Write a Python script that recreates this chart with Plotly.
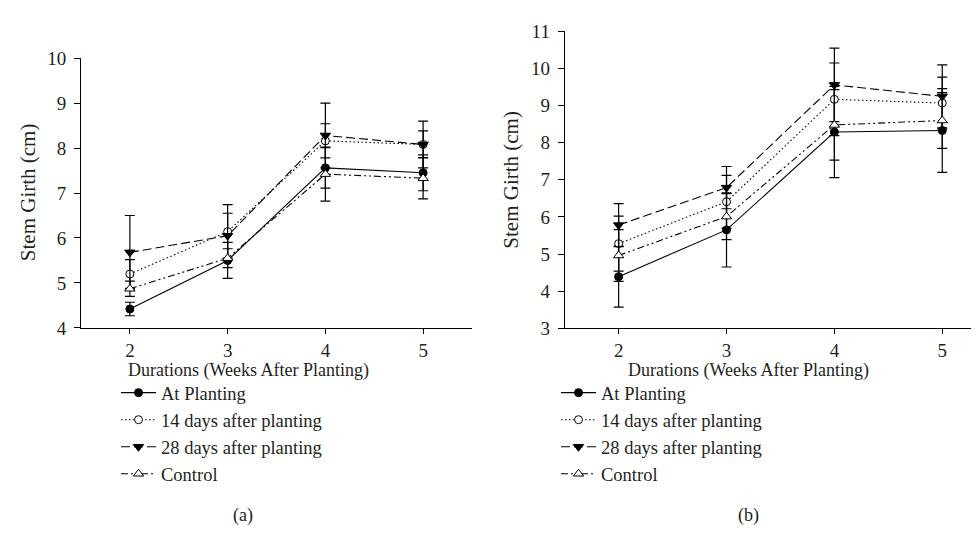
import plotly.graph_objects as go

# ---------------- data ----------------
weeks = [2, 3, 4, 5]
series_names = ["At Planting", "14 days after planting", "28 days after planting", "Control"]

# panel (a)
a_at = [4.42, 5.50, 7.56, 7.45]
a_at_err = [0.15, 0.40, 0.45, 0.40]
a_14 = [5.20, 6.14, 8.16, 8.08]
a_14_err = [0.32, 0.60, 0.38, 0.30]
a_28 = [5.68, 6.05, 8.28, 8.08]
a_28_err = [0.82, 0.50, 0.72, 0.52]
a_ctrl = [4.87, 5.55, 7.42, 7.33]
a_ctrl_err = [0.17, 0.21, 0.60, 0.46]

# panel (b)
b_at = [4.39, 5.65, 8.29, 8.33]
b_at_err = [0.82, 1.00, 1.23, 1.13]
b_14 = [5.28, 6.41, 9.17, 9.07]
b_14_err = [0.74, 0.71, 0.98, 0.70]
b_28 = [5.78, 6.79, 9.56, 9.25]
b_28_err = [0.58, 0.57, 0.99, 0.85]
b_ctrl = [4.96, 6.01, 8.48, 8.60]
b_ctrl_err = [0.70, 0.62, 0.95, 0.75]

a_ticks = [4, 5, 6, 7, 8, 9, 10]
b_ticks = [3, 4, 5, 6, 7, 8, 9, 10, 11]

# ---------------- styling ----------------
W, H = 979, 559
FONT = "Liberation Serif"
TXT = "#231f20"
styles = [
    dict(dash="solid", symbol="circle", fill="black", size=8),
    dict(dash="1.5px,2.5px", symbol="circle", fill="white", size=8),
    dict(dash="9px,4px", symbol="triangle-down", fill="black", size=9),
    dict(dash="7px,3px,2px,3px,2px,3px", symbol="triangle-up", fill="white", size=9),
]

fig = go.Figure()

def add_panel(vals, errs, xa, ya, legend):
    for i, (v, e) in enumerate(zip(vals, errs)):
        st = styles[i]
        fig.add_trace(go.Scatter(
            x=weeks, y=v, name=series_names[i], mode="lines+markers",
            xaxis=xa, yaxis=ya, legend=legend,
            line=dict(color="black", width=1.1, dash=st["dash"]),
            marker=dict(symbol=st["symbol"], size=st["size"], color=st["fill"],
                        line=dict(color="black", width=1)),
            error_y=dict(type="data", array=e, color="black", thickness=1.2, width=5),
        ))

add_panel([a_at, a_14, a_28, a_ctrl], [a_at_err, a_14_err, a_28_err, a_ctrl_err], "x", "y", "legend")
add_panel([b_at, b_14, b_28, b_ctrl], [b_at_err, b_14_err, b_28_err, b_ctrl_err], "x2", "y2", "legend2")

def px_x(p):
    return p / W

def px_y(p):
    return 1 - p / H

axis_common = dict(showgrid=False, zeroline=False, showline=True, linecolor="black",
                   linewidth=1, ticks="outside", tickcolor="black", tickwidth=1,
                   tickfont=dict(family=FONT, size=19, color=TXT))

legend_common = dict(font=dict(family=FONT, size=18.5, color=TXT), bgcolor="rgba(0,0,0,0)",
                     itemwidth=35, yanchor="top", xanchor="left", borderwidth=0,
                     itemclick=False)

fig.update_layout(
    width=W, height=H, margin=dict(l=0, r=0, t=0, b=0),
    paper_bgcolor="white", plot_bgcolor="white", showlegend=True,
    xaxis=dict(domain=[px_x(73), px_x(464)], range=[1.5, 5.5], tickvals=weeks,
               anchor="y", ticklen=5, **axis_common),
    yaxis=dict(domain=[px_y(322), px_y(41.7)], range=[4, 10], tickvals=a_ticks,
               anchor="x", ticklen=6, ticklabelstandoff=4, **axis_common),
    xaxis2=dict(domain=[px_x(556.7), px_x(972)], range=[1.5, 5.35], tickvals=weeks,
                anchor="y2", ticklen=5, **axis_common),
    yaxis2=dict(domain=[px_y(322.3), px_y(14)], range=[3, 11], tickvals=b_ticks,
                anchor="x2", ticklen=6, ticklabelstandoff=4, **axis_common),
    legend=dict(x=px_x(108), y=px_y(370), **legend_common),
    legend2=dict(x=px_x(548), y=px_y(370), **legend_common),
)

annotations = [
    dict(text="Stem Girth (cm)", x=px_x(20), y=px_y(181), textangle=-90, size=21),
    dict(text="Stem Girth (cm)", x=px_x(503), y=px_y(168), textangle=-90, size=21),
    dict(text="Durations (Weeks After Planting)", x=px_x(240), y=px_y(366), textangle=0, size=18),
    dict(text="Durations (Weeks After Planting)", x=px_x(740), y=px_y(366), textangle=0, size=18),
    dict(text="(a)", x=px_x(235), y=px_y(517), textangle=0, size=18),
    dict(text="(b)", x=px_x(740), y=px_y(517), textangle=0, size=18),
]
for a in annotations:
    fig.add_annotation(xref="paper", yref="paper", showarrow=False,
                       xanchor="center", yanchor="middle", text=a["text"],
                       x=a["x"], y=a["y"], textangle=a["textangle"],
                       font=dict(family=FONT, size=a["size"], color=TXT))

fig.write_html("out.html")
